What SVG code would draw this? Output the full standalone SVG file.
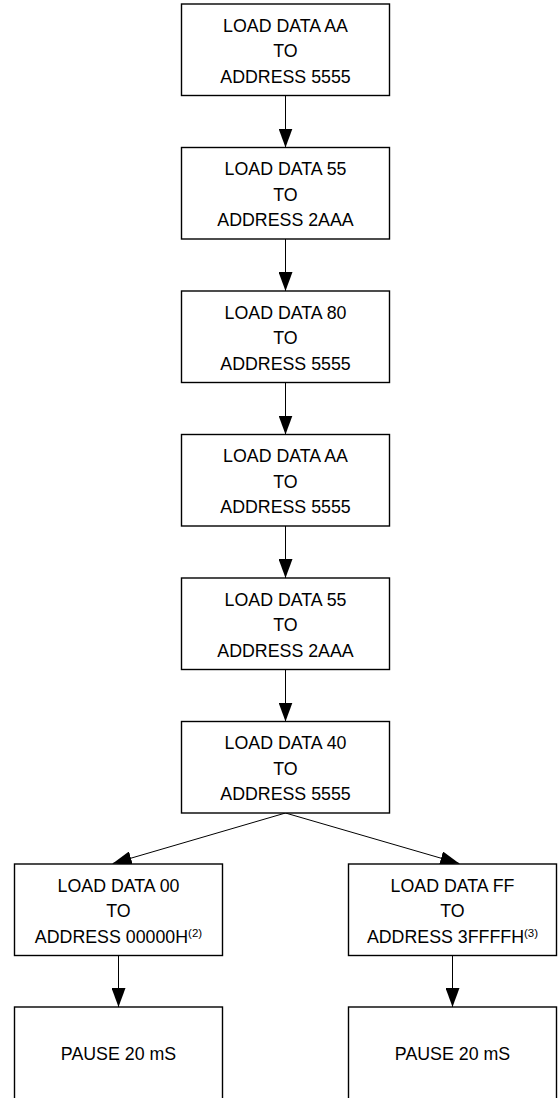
<svg xmlns="http://www.w3.org/2000/svg" width="558" height="1098" viewBox="0 0 558 1098">
<defs>
<style>
.box{fill:#fff;stroke:#000;stroke-width:1.4}
.t{font-family:"Liberation Sans",Arial,sans-serif;font-size:17.8px;fill:#000;text-anchor:middle}
.sup{font-size:11.5px}
.c{stroke:#000;stroke-width:1;fill:none;marker-end:url(#ah)}
</style>
<marker id="ah" markerUnits="userSpaceOnUse" markerWidth="19" markerHeight="14" refX="19" refY="7" orient="auto">
<path d="M0,0 L19,7 L0,14 Z" fill="#000"/>
</marker>
</defs>
<rect width="558" height="1098" fill="#fff"/>
<g id="connectors">
<line class="c" x1="285.5" y1="95.5" x2="285.5" y2="147.5"/>
<line class="c" x1="285.5" y1="239" x2="285.5" y2="291"/>
<line class="c" x1="285.5" y1="382.5" x2="285.5" y2="434.5"/>
<line class="c" x1="285.5" y1="526" x2="285.5" y2="578"/>
<line class="c" x1="285.5" y1="669.5" x2="285.5" y2="721.5"/>
<line class="c" x1="285.5" y1="813" x2="112.7" y2="863.5"/>
<line class="c" x1="285.5" y1="813" x2="459.3" y2="863.5"/>
<line class="c" x1="118.5" y1="955.5" x2="118.5" y2="1007"/>
<line class="c" x1="452.5" y1="955.5" x2="452.5" y2="1007"/>
</g>
<g id="n1">
<rect class="box" x="181.5" y="4" width="208" height="91.5"/>
<text class="t" x="285.5" y="31.5">LOAD DATA AA</text>
<text class="t" x="285.5" y="57">TO</text>
<text class="t" x="285.5" y="82.5">ADDRESS 5555</text>
</g>
<g id="n2">
<rect class="box" x="181.5" y="147.5" width="208" height="91.5"/>
<text class="t" x="285.5" y="175">LOAD DATA 55</text>
<text class="t" x="285.5" y="200.5">TO</text>
<text class="t" x="285.5" y="226">ADDRESS 2AAA</text>
</g>
<g id="n3">
<rect class="box" x="181.5" y="291" width="208" height="91.5"/>
<text class="t" x="285.5" y="318.5">LOAD DATA 80</text>
<text class="t" x="285.5" y="344">TO</text>
<text class="t" x="285.5" y="369.5">ADDRESS 5555</text>
</g>
<g id="n4">
<rect class="box" x="181.5" y="434.5" width="208" height="91.5"/>
<text class="t" x="285.5" y="462">LOAD DATA AA</text>
<text class="t" x="285.5" y="487.5">TO</text>
<text class="t" x="285.5" y="513">ADDRESS 5555</text>
</g>
<g id="n5">
<rect class="box" x="181.5" y="578" width="208" height="91.5"/>
<text class="t" x="285.5" y="605.5">LOAD DATA 55</text>
<text class="t" x="285.5" y="631">TO</text>
<text class="t" x="285.5" y="656.5">ADDRESS 2AAA</text>
</g>
<g id="n6">
<rect class="box" x="181.5" y="721.5" width="208" height="91.5"/>
<text class="t" x="285.5" y="749">LOAD DATA 40</text>
<text class="t" x="285.5" y="774.5">TO</text>
<text class="t" x="285.5" y="800">ADDRESS 5555</text>
</g>
<g id="n7">
<rect class="box" x="14.5" y="864" width="208" height="91.5"/>
<text class="t" x="118.5" y="891.5">LOAD DATA 00</text>
<text class="t" x="118.5" y="917">TO</text>
<text class="t" x="118.5" y="942.5">ADDRESS 00000H<tspan class="sup" dy="-6">(2)</tspan></text>
</g>
<g id="n8">
<rect class="box" x="348.5" y="864" width="208" height="91.5"/>
<text class="t" x="452.5" y="891.5">LOAD DATA FF</text>
<text class="t" x="452.5" y="917">TO</text>
<text class="t" x="452.5" y="942.5">ADDRESS 3FFFFH<tspan class="sup" dy="-6">(3)</tspan></text>
</g>
<g id="n9">
<rect class="box" x="14.5" y="1007" width="208" height="95"/>
<text class="t" x="118.5" y="1060">PAUSE 20 mS</text>
</g>
<g id="n10">
<rect class="box" x="348.5" y="1007" width="208" height="95"/>
<text class="t" x="452.5" y="1060">PAUSE 20 mS</text>
</g>
</svg>
